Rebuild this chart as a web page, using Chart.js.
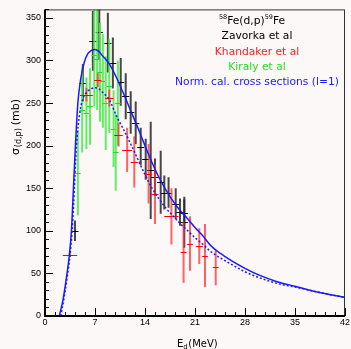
<!DOCTYPE html>
<html>
<head>
<meta charset="utf-8">
<script src="https://cdn.jsdelivr.net/npm/chart.js@4.4.0/dist/chart.umd.min.js"></script>
<style>
  body { margin: 0; background: #fcf8f7; }
  #wrap { position: relative; width: 351px; height: 349px; }
</style>
</head>
<body>
<div id="wrap"><canvas id="myChart" width="351" height="349"></canvas></div>
<script>
// Zavorka et al (black)
const zavE  = [4.2, 5.3, 6.7, 7.6, 8.8, 9.5, 10.6, 11.3, 12.0, 12.7, 13.4, 14.1, 14.8, 15.4, 16.2, 16.7, 17.3, 18.3, 18.9, 19.5, 19.5];
const zavS  = [100, 274, 323, 334, 321, 297, 275, 258, 239, 227, 199, 184, 171, 163, 157, 145, 145, 132, 122, 121, 110];
const zavDE = [0.5, 0.5, 0.5, 0.5, 0.5, 0.5, 0.5, 0.5, 0.5, 0.5, 0.5, 0.5, 0.5, 0.5, 0.5, 0.5, 0.5, 0.5, 0.5, 0.5, 0.5];
const zavDS = [12, 22, 35, 33, 35, 30, 28, 27, 25, 25, 22, 24, 57, 22, 37, 20, 18, 18, 16, 16, 30];

// Khandaker et al (red)
const khaE  = [3.5, 5.8, 7.4, 9.0, 10.3, 11.5, 12.5, 14.5, 15.4, 17.7, 19.4, 20.3, 21.6, 22.4, 23.9];
const khaS  = [72, 260, 277, 256, 213, 195, 181, 167, 143, 117, 75, 85, 82, 71, 57];
const khaDE = [1.0, 0.9, 0.5, 0.6, 0.6, 0.7, 0.5, 0.5, 0.5, 1.0, 0.4, 0.4, 0.5, 0.4, 0.4];
const khaDS = [3, 8, 8, 10, 14, 26, 30, 35, 35, 33, 36, 32, 21, 37, 21];

// Kiraly et al (green)
const kirE  = [4.6, 5.2, 5.8, 6.3, 6.9, 7.3, 7.7, 8.1, 8.5, 9.0, 9.6, 9.9, 10.2];
const kirS  = [168, 242, 238, 246, 306, 302, 286, 276, 250, 270, 220, 192, 250];
const kirDE = [0.4, 0.4, 0.4, 0.4, 0.4, 0.4, 0.4, 0.4, 0.4, 0.4, 0.4, 0.4, 0.4];
const kirDS = [50, 50, 42, 45, 60, 60, 58, 55, 55, 55, 45, 45, 50];

// normalised calculation, solid and dotted
const calE = [2.0, 2.5, 3.0, 3.4, 3.7, 3.9, 4.2, 4.6, 5.0, 5.5, 6.0, 6.5, 7.0, 7.5, 8.0, 9.0, 10.0, 11.0, 12.0, 13.0, 14.0, 15.0, 16.0, 17.0, 18.0, 19.0, 20.0, 21.0, 22.0, 23.3, 25.0, 28.0, 30.0, 32.6, 35.0, 37.2, 40.0, 42.0];
const calS = [0, 18, 45, 71, 100, 135, 190, 250, 278, 298, 308, 312, 313, 311, 306, 296, 280, 261, 241, 221, 200, 180, 162, 147, 134, 123, 114, 104, 95, 82, 71, 56, 48, 40, 35, 30, 25, 22];
const dotE = [2.2, 2.6, 3.1, 3.5, 3.8, 4.0, 4.4, 4.9, 5.3, 6.0, 6.5, 7.0, 7.5, 8.0, 9.0, 10.0, 11.0, 12.0, 13.0, 14.0, 15.0, 16.0, 17.0, 18.0, 18.75, 20.0, 21.0, 22.0, 23.3, 25.0, 28.0, 30.0, 32.6, 35.0, 37.2, 40.0, 42.0];
const dotS = [0, 18, 45, 71, 100, 130, 200, 240, 255, 264, 267, 268, 267, 263, 254, 235, 219, 202, 184, 166, 150, 137, 126, 117, 110, 100, 92, 85, 75, 66, 52, 45, 38, 34, 30, 25, 22];

const xTicks = [0, 7, 14, 21, 28, 35, 42];
const yTicks = [0, 50, 100, 150, 200, 250, 300, 350];

const FONT = "'Liberation Sans', Arial, sans-serif";
const TFONT = "'DejaVu Sans', sans-serif";

function pts(xs, ys) {
  return xs.map((x, i) => ({ x: x, y: ys[i] }));
}

// crosses with error bars, drawn under the curves
const errorBars = {
  id: "errorBars",
  beforeDatasetsDraw(chart) {
    const ctx = chart.ctx, xs = chart.scales.x, ys = chart.scales.y, a = chart.chartArea;
    ctx.save();
    ctx.beginPath();
    ctx.rect(a.left, a.top, a.right - a.left, a.bottom - a.top);
    ctx.clip();
    chart.data.datasets.forEach((ds) => {
      if (!ds.errX) return;
      ds.data.forEach((p, i) => {
        const px = xs.getPixelForValue(p.x);
        const py = ys.getPixelForValue(p.y);
        ctx.strokeStyle = ds.barColor;
        ctx.lineWidth = 2;
        ctx.beginPath();
        ctx.moveTo(px, ys.getPixelForValue(p.y - ds.errY[i]));
        ctx.lineTo(px, ys.getPixelForValue(p.y + ds.errY[i]));
        ctx.stroke();
        ctx.strokeStyle = ds.crossColor;
        ctx.lineWidth = 1;
        ctx.beginPath();
        ctx.moveTo(xs.getPixelForValue(p.x - ds.errX[i]), Math.round(py) + 0.5);
        ctx.lineTo(xs.getPixelForValue(p.x + ds.errX[i]), Math.round(py) + 0.5);
        ctx.stroke();
      });
    });
    ctx.restore();
  },
};

// frame, tick marks, axis titles and the text block
const frame = {
  id: "frame",
  afterDraw(chart) {
    const ctx = chart.ctx, xs = chart.scales.x, ys = chart.scales.y, a = chart.chartArea;
    ctx.save();
    ctx.strokeStyle = "#333";
    ctx.lineWidth = 1;
    ctx.strokeRect(a.left + 0.5, a.top + 0.5, a.right - a.left - 1, a.bottom - a.top - 1);
    ctx.strokeStyle = "#000";
    ctx.lineWidth = 2;
    ctx.beginPath();
    ctx.moveTo(a.left, a.top);
    ctx.lineTo(a.left, a.bottom);
    ctx.lineTo(a.right, a.bottom);
    ctx.stroke();

    ctx.lineWidth = 1;
    for (let v = 0; v <= 360; v += 10) {
      const y = Math.round(ys.getPixelForValue(v)) + 0.5;
      const len = v % 50 === 0 ? 8 : 4;
      ctx.beginPath();
      ctx.moveTo(a.left, y);
      ctx.lineTo(a.left + len, y);
      ctx.stroke();
    }
    for (let k = 0; k <= 30; k++) {
      const v = k * 1.4;
      const x = Math.round(xs.getPixelForValue(v)) + 0.5;
      const len = k % 5 === 0 ? 8 : 4;
      ctx.beginPath();
      ctx.moveTo(x, a.bottom);
      ctx.lineTo(x, a.bottom - len);
      ctx.stroke();
    }

    ctx.fillStyle = "#000";
    ctx.textBaseline = "alphabetic";
    ctx.textAlign = "left";

    // x title E_d(MeV)
    let x = 177;
    ctx.font = "10px " + TFONT;
    ctx.fillText("E", x, 347);
    x += ctx.measureText("E").width;
    ctx.font = "7px " + TFONT;
    ctx.fillText("d", x, 349);
    x += ctx.measureText("d").width + 0.5;
    ctx.font = "10px " + TFONT;
    ctx.fillText("(MeV)", x, 347);

    // y title sigma_(d,p) (mb)
    ctx.save();
    ctx.translate(15, 127);
    ctx.rotate(-Math.PI / 2);
    ctx.font = "11px " + TFONT;
    const w1 = ctx.measureText("\u03c3").width;
    const w3 = ctx.measureText("(mb)").width;
    ctx.font = "8px " + TFONT;
    const w2 = ctx.measureText("(d,p)").width;
    let t = -(w1 + w2 + w3 + 4) / 2;
    ctx.font = "11px " + TFONT;
    ctx.fillText("\u03c3", t, 4);
    t += w1 + 1;
    ctx.font = "8px " + TFONT;
    ctx.fillText("(d,p)", t, 6);
    t += w2 + 3;
    ctx.font = "11px " + TFONT;
    ctx.fillText("(mb)", t, 4);
    ctx.restore();

    // reaction label with superscript mass numbers
    const parts = [["58", 1], ["Fe(d,p)", 0], ["59", 1], ["Fe", 0]];
    let total = 0;
    parts.forEach((p) => {
      ctx.font = (p[1] ? "6.5px " : "10.7px ") + TFONT;
      total += ctx.measureText(p[0]).width;
    });
    x = 252 - total / 2;
    parts.forEach((p) => {
      ctx.font = (p[1] ? "6.5px " : "10.7px ") + TFONT;
      ctx.fillText(p[0], x, p[1] ? 19 : 23.5);
      x += ctx.measureText(p[0]).width;
    });

    ctx.textAlign = "center";
    ctx.font = "10.7px " + TFONT;
    const lines = [
      ["Zavorka et al", "#000000", 39],
      ["Khandaker et al", "#ff1a1a", 55],
      ["Kiraly et al", "#22dd22", 70],
      ["Norm. cal. cross sections (l=1)", "#1a1aff", 85],
    ];
    lines.forEach((l) => {
      ctx.fillStyle = l[1];
      ctx.fillText(l[0], 257, l[2]);
    });
    ctx.restore();
  },
};

const ctx = document.getElementById("myChart").getContext("2d");
const myChart = new Chart(ctx, {
  type: "scatter",
  data: {
    datasets: [
      {
        label: "Zavorka et al",
        data: pts(zavE, zavS),
        errX: zavDE,
        errY: zavDS,
        barColor: "rgba(40,40,40,0.85)",
        crossColor: "#000",
        pointRadius: 0,
        showLine: false,
      },
      {
        label: "Kiraly et al",
        data: pts(kirE, kirS),
        errX: kirDE,
        errY: kirDS,
        barColor: "rgba(70,235,70,0.85)",
        crossColor: "#22dd22",
        pointRadius: 0,
        showLine: false,
      },
      {
        label: "Khandaker et al",
        data: pts(khaE, khaS),
        errX: khaDE,
        errY: khaDS,
        barColor: "rgba(255,50,50,0.75)",
        crossColor: "#ff0000",
        pointRadius: 0,
        showLine: false,
      },
      {
        label: "cal. dotted",
        data: pts(dotE, dotS),
        showLine: true,
        borderColor: "#1a1aff",
        borderWidth: 1.5,
        borderDash: [2, 2],
        pointRadius: 0,
        cubicInterpolationMode: "monotone",
      },
      {
        label: "Norm. cal. cross sections (l=1)",
        data: pts(calE, calS),
        showLine: true,
        borderColor: "#1a1aff",
        borderWidth: 1.5,
        pointRadius: 0,
        cubicInterpolationMode: "monotone",
      },
    ],
  },
  options: {
    responsive: false,
    animation: false,
    layout: { padding: { left: 0, right: 3, top: 8, bottom: 0 } },
    plugins: { legend: { display: false }, tooltip: { enabled: false } },
    scales: {
      x: {
        min: 0,
        max: 42,
        grid: { display: false, drawTicks: false },
        border: { display: false },
        afterBuildTicks: (s) => { s.ticks = xTicks.map((v) => ({ value: v })); },
        afterFit: (s) => { s.height = 33; },
        ticks: { color: "#000", padding: 1, maxRotation: 0, font: { size: 9, family: FONT } },
      },
      y: {
        min: 0,
        max: 360,
        grid: { display: false, drawTicks: false },
        border: { display: false },
        afterBuildTicks: (s) => { s.ticks = yTicks.map((v) => ({ value: v })); },
        afterFit: (s) => { s.width = 45; },
        ticks: { color: "#000", padding: 4, font: { size: 9, family: FONT } },
      },
    },
  },
  plugins: [errorBars, frame],
});
</script>
</body>
</html>
